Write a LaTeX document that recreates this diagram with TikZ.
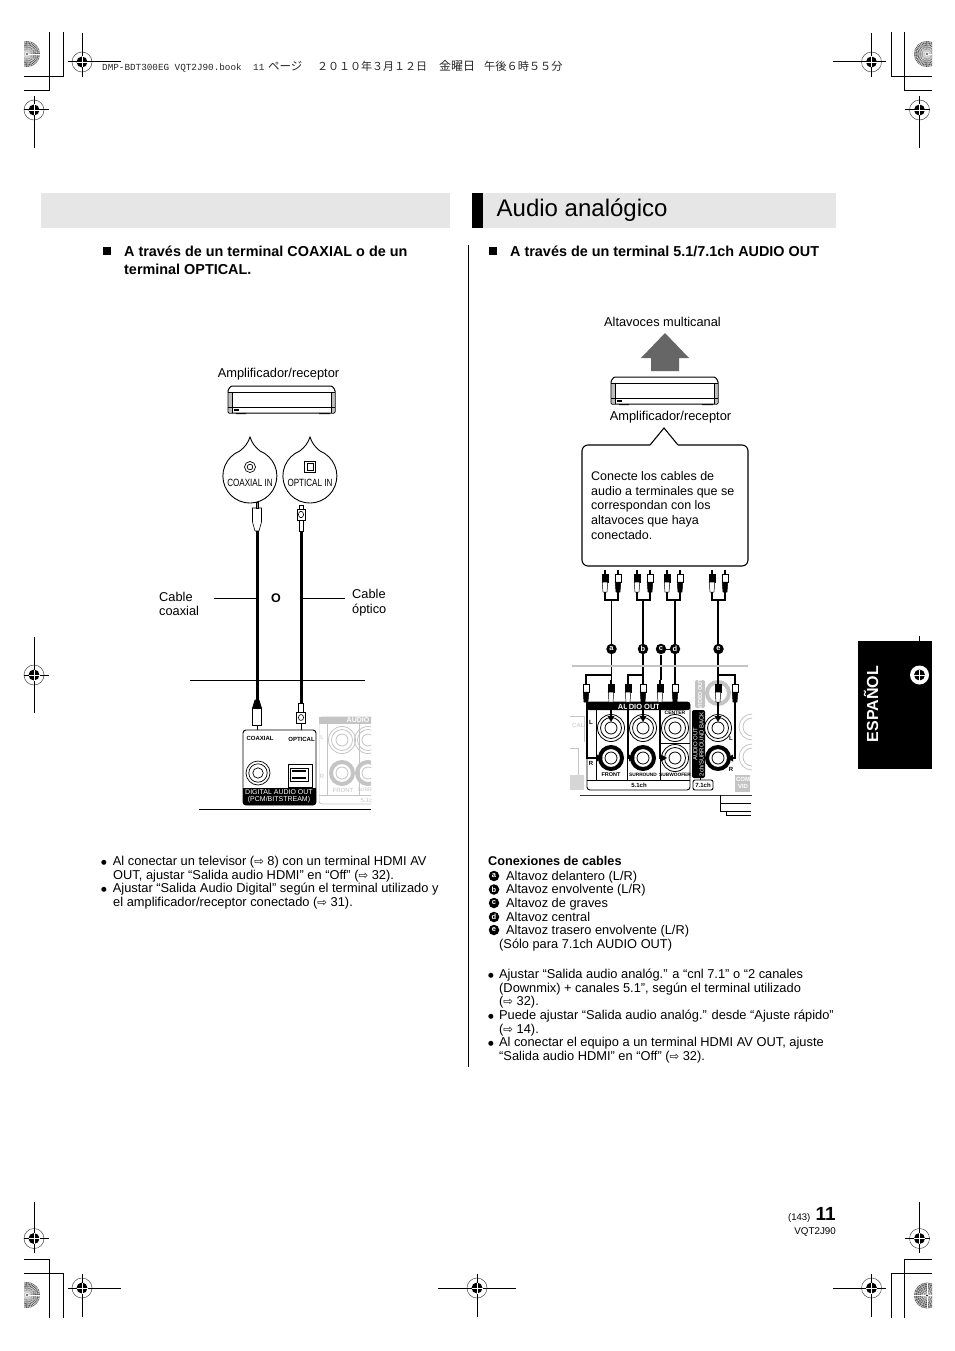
\documentclass[tikz,border=0pt]{standalone}
\usepackage{fontspec}
\setmainfont{Liberation Sans}
\newfontfamily\dvf{DejaVu Sans}
\newfontfamily\cjkf{Noto Sans CJK JP}
\newfontfamily\monof{Liberation Mono}
\usetikzlibrary{calc}
\definecolor{bar}{HTML}{E6E6E6}
\definecolor{panelgrey}{HTML}{C4C4C4}
\newcommand{\fs}[2]{\fontsize{#1}{#2}\selectfont}
\newcommand{\goto}{{\dvf\fs{11.5}{11.5}⇨}}
\newcommand{\bul}{\raisebox{1pt}{\dvf\fs{6.5}{6.5}●}}
\tikzset{x=1pt,y=-1pt,
 body/.style={anchor=north west,align=left,inner sep=0pt,font=\fs{12.85}{13.6}},
 label/.style={anchor=west,align=left,inner sep=0pt,font=\fs{12.8}{14.6}},
 head/.style={anchor=north west,align=left,inner sep=0pt,font=\bfseries\fs{14.4}{18}},
 line13/.style={anchor=base west,inner sep=0pt,font=\fs{12.8}{13}},
 hdr/.style={anchor=base west,inner sep=0pt,text=black!85},
 badge/.style={circle,fill=black,text=white,inner sep=0pt,minimum size=10.5pt,font=\bfseries\fs{7.5}{7.5}},
 thin grey/.style={draw=panelgrey,line width=.8pt},
 cable/.style={line width=3pt,black},
 wire/.style={line width=1.8pt,black},
 crop/.style={line width=1pt,black}}
% registration mark: x y left right up down
\newcommand{\regmark}[6]{%
 \draw[line width=.5pt,black!70] (#1,#2) circle (10);
 \fill[black] (#1,#2) circle (5.5);
 \draw[crop] (#1-#3,#2) -- (#1+#4,#2);
 \draw[crop] (#1,#2-#5) -- (#1,#2+#6);
 \draw[white,line width=.8pt] (#1-5.5,#2) -- (#1+5.5,#2) (#1,#2-5.5) -- (#1,#2+5.5);
}
% half disc target: centre x, y, clip edge x, far edge x, grey level, angle step
\newcommand{\halfdisc}[6]{%
 \begin{scope}
 \clip (#3,#2-14) rectangle (#4,#2+14);
 \fill[black!#5] (#1,#2) circle (13);
 \foreach \r in {4,6,8,10,12} \draw[white,line width=.2pt] (#1,#2) circle (\r);
 \foreach \a in {0,#6,...,359} \draw[white,line width=.25pt] (#1,#2) -- ++(\a:13);
 \fill[black] (#1,#2) circle (.9);
 \end{scope}
}
% amplifier
\newcommand{\amplifier}[2]{%
 \begin{scope}[shift={(#1,#2)}]
 \fill[black] (8,27) rectangle (18,29) (91,27) rectangle (102,29);
 \draw[line width=1pt,fill=white,rounded corners=1pt] (0,5) -- (3,1) -- (104,1) -- (107,5) -- (107,28) -- (0,28) -- cycle;
 \fill[black!25] (.6,7) rectangle (4,27.4) (103,7) rectangle (106.4,27.4);
 \draw[line width=.8pt] (0,7) -- (107,7);
 \draw[line width=.9pt] (0,22) -- (107,22);
 \draw[line width=.5pt] (4,7) -- (4,28) (103,7) -- (103,28);
 \fill[black] (5.5,23.5) rectangle (11,26);
 \end{scope}
}
% speech bubble circle: centre x y
\newcommand{\bubble}[2]{%
 \draw[line width=.9pt,fill=white] (#1,#2-39) .. controls (#1+2,#2-33) and (#1+5,#2-29) .. (#1+10,#2-25)
   arc[start angle=-68,end angle=248,radius=27] .. controls (#1-5,#2-29) and (#1-2,#2-33) .. (#1,#2-39) -- cycle;
}
% RCA plug pointing up: x y top-colour bottom-colour
\newcommand{\rca}[4]{%
 \fill[black] (#1-1,#2) rectangle (#1+1,#2+4);
 \draw[line width=.5pt,fill=#3] (#1-3,#2+4) -- (#1+3,#2+4) -- (#1+3,#2+12) -- (#1-3,#2+12) -- cycle;
 \draw[line width=.5pt,fill=#4] (#1-2.8,#2+12) -- (#1+2.8,#2+12) -- (#1+2,#2+22) -- (#1-2,#2+22) -- cycle;
}
% jack rings
\newcommand{\jack}[3]{%
 \draw[#3,line width=.8pt] (#1,#2) circle (13.5);
 \draw[#3,line width=.8pt] (#1,#2) circle (10.5);
 \draw[#3,line width=.8pt] (#1,#2) circle (6);
}
\newcommand{\thickjack}[3]{%
 \draw[#3,line width=4pt] (#1,#2) circle (11);
 \draw[#3,line width=.8pt] (#1,#2) circle (6);
}
\begin{document}
\begin{tikzpicture}
\useasboundingbox (0,0) rectangle (954,1351);
\fill[white] (0,0) rectangle (954,1351);

% ---------- printer marks
\halfdisc{27}{54}{24}{41}{68}{8}
\halfdisc{927}{54}{932}{913}{68}{8}
\halfdisc{27}{1295}{24}{41}{68}{8}
\halfdisc{927}{1295.5}{932}{913}{62}{15}
\draw[crop] (24,77) -- (63,77) -- (63,32);
\draw[crop] (24,91) -- (49,91) -- (49,32);
\draw[crop] (932,77) -- (891,77) -- (891,32);
\draw[crop] (932,91) -- (904,91) -- (904,32);
\draw[crop] (24,1259) -- (49,1259) -- (49,1318);
\draw[crop] (24,1273) -- (63,1273) -- (63,1318);
\draw[crop] (932,1259) -- (904,1259) -- (904,1318);
\draw[crop] (932,1273) -- (891,1273) -- (891,1318);
\regmark{82}{62}{14}{39}{29}{15}
\regmark{34}{110}{10}{15}{14}{38}
\regmark{871.5}{62}{39}{14}{29}{15}
\regmark{919.5}{110}{15}{10}{14}{38}
\regmark{34}{675}{10}{15}{38}{38}
\regmark{34}{1238.5}{10}{15}{37}{14}
\regmark{82}{1288}{14}{39}{14}{29}
\regmark{477}{1288}{39}{39}{14}{29}
\regmark{871.5}{1288}{39}{14}{14}{29}
\regmark{919.5}{1238.5}{15}{10}{37}{14}
\node[hdr] (bookline) at (102,71) {\monof\fs{9.3}{9.3}DMP-BDT300EG VQT2J90.book};
\node[hdr] (bookpg) at (253,71) {\monof\fs{9.3}{9.3}11};
\node[hdr] (bookpage) at (268,71) {\cjkf\fs{11.5}{11.5}ページ};
\node[hdr] (bookdate) at (317,71) {\cjkf\fs{11}{11}２０１０年３月１２日};
\node[hdr] (bookday) at (439,71) {\cjkf\fs{12}{12}金曜日};
\node[hdr] (booktime) at (484,71) {\cjkf\fs{11.2}{11.2}午後６時５５分};

% ---------- header bars
\fill[bar] (41,193) rectangle (450,228);
\fill[bar] (472,193) rectangle (836,228);
\fill[black] (472,193) rectangle (483,228);
\node[anchor=base west,inner sep=0pt,font=\fs{24}{24}] (title) at (496.5,216) {Audio analógico};
\draw[line width=.8pt] (468,245) -- (468,1067);

% ---------- headings
\fill[black] (103,247) rectangle (110.5,255);
\node[head] (headL) at (124,246) {A través de un terminal COAXIAL o de un\\terminal OPTICAL.};
\fill[black] (489,247) rectangle (496.5,255);
\node[head] (headR) at (510,246) {A través de un terminal 5.1/7.1ch AUDIO OUT};

% ---------- LEFT diagram
\node[anchor=center,inner sep=0pt,font=\fs{12.85}{13}] (ampL) at (278.5,374) {Amplificador/receptor};
\amplifier{228}{385}
\bubble{250}{476}\bubble{310}{476}
\draw[line width=.7pt] (250,467) circle (5.5) (250,467) circle (2.8);
\draw[line width=1pt] (304.5,461) rectangle (315.5,472);
\draw[line width=.7pt] (307,463.5) rectangle (313,470);
\node[inner sep=0pt,font=\fs{10.5}{10.5},xscale=.77] (coaxin) at (250,483) {COAXIAL IN};
\node[inner sep=0pt,font=\fs{10.5}{10.5},xscale=.77] (optin) at (310,483) {OPTICAL IN};
% upper plugs
\draw[line width=.6pt,fill=white] (252.5,508) -- (252.5,522) -- (255,531) -- (259,531) -- (261.5,522) -- (261.5,508) -- cycle;
\draw[line width=.6pt,fill=black!40] (256,502) rectangle (258,508);
\draw[line width=.8pt,fill=white] (299,505) rectangle (303,509);
\draw[line width=.8pt,fill=white] (297,509) rectangle (305.5,520);
\draw[line width=.6pt,fill=white] (299,520) rectangle (303,531);
\draw[line width=.6pt] (301,514.5) ellipse (2.6 and 3.2);
% cables
\draw[cable] (257,531) -- (257,702);
\draw[cable] (301,531) -- (301,703);
\draw[line width=.9pt] (190,680) -- (365,680);
\node[label] (coaxcable) at (159,604) {Cable\\coaxial};
\node[label,font=\fs{12.8}{15}] (optcable) at (352,602.5) {Cable\\óptico};
\node[inner sep=0pt,font=\bfseries\fs{12.5}{13}] (ortxt) at (276,598.5) {O};
\draw[line width=.7pt] (214,598) -- (257,598);
\draw[line width=.7pt] (301,598) -- (345,598);
% grey rear panel
\begin{scope}
\clip (319,700) rectangle (371,810);
\draw[thin grey,rounded corners=3pt] (319,717) rectangle (400,804);
\fill[panelgrey] (319,717) rectangle (400,724);
\draw[thin grey] (327,724) -- (327,795) (359,724) -- (359,795) (319,795) -- (400,795);
\jack{342}{740}{panelgrey}
\jack{368}{740}{panelgrey}
\thickjack{342}{773}{panelgrey}
\thickjack{368}{773}{panelgrey}
\node[inner sep=0pt,text=white,font=\bfseries\fs{7}{7}] (augrey) at (358,720.5) {AUDIO};
\node[inner sep=0pt,text=panelgrey,font=\fs{6}{6}] (lgrey) at (322,737) {L};
\node[inner sep=0pt,text=panelgrey,font=\fs{6}{6}] (rgrey) at (322,776) {R};
\node[inner sep=0pt,text=panelgrey,font=\fs{6}{6}] (frontgrey) at (343,790) {FRONT};
\node[inner sep=0pt,text=panelgrey,font=\fs{5}{5}] (surgrey) at (372,790) {SURROUND};
\node[inner sep=0pt,text=panelgrey,font=\fs{6}{6}] (sixgrey) at (368,800) {5.1ch};
\end{scope}
% output box
\draw[line width=.9pt,rounded corners=3pt,fill=white] (243,730) rectangle (316,805);
\fill[black,rounded corners=3pt] (243,788) rectangle (316,805);
\fill[black] (243,788) rectangle (316,796);
\draw[line width=.7pt] (258,773) circle (12) (258,773) circle (9.2) (258,773) circle (5.2);
\draw[line width=.9pt] (288,764) rectangle (312,787);
\draw[line width=.8pt] (290,768) rectangle (308,781);
\draw[line width=1.4pt] (292,771) -- (306,771) (292,778) -- (306,778);
\node[inner sep=0pt,font=\bfseries\fs{6}{6}] (coaxtxt) at (260,738.5) {COAXIAL};
\node[inner sep=0pt,font=\bfseries\fs{6}{6}] (opttxt) at (301.5,739) {OPTICAL};
\node[inner sep=0pt,text=white,align=center,font=\fs{7}{7.2}] (digital) at (279,796.5) {DIGITAL AUDIO OUT\\(PCM/BITSTREAM)};
% lower plugs
\draw[line width=.6pt,fill=black] (252.5,708) -- (255,700) -- (259,700) -- (261.5,708) -- cycle;
\draw[line width=.6pt,fill=white] (252.5,708) rectangle (261.5,725);
\draw[line width=.8pt] (257,725) -- (257,730);
\draw[line width=.8pt,fill=white] (298.5,703) rectangle (303.5,712);
\draw[line width=.8pt,fill=white] (296.5,712) rectangle (305.5,723);
\draw[line width=.6pt] (301,717.5) ellipse (2.6 and 3);
\draw[line width=.8pt] (301,723) -- (301,730);
\draw[line width=1pt] (199,809) -- (371,809);

% ---------- LEFT notes
\node[body] (notesL) at (101,856) {\bul\hspace{2.4pt} Al conectar un televisor (\goto{} 8) con un terminal HDMI AV\\
\hspace{12pt}OUT, ajustar “Salida audio HDMI” en “Off” (\goto{} 32).\\
\bul\hspace{2.4pt} Ajustar “Salida Audio Digital” según el terminal utilizado y\\
\hspace{12pt}el amplificador/receptor conectado (\goto{} 31).};

% ---------- RIGHT diagram
\node[inner sep=0pt,font=\fs{12.8}{13}] (multi) at (662.5,322) {Altavoces multicanal};
\fill[black!60] (665,333) -- (689,358) -- (679,358) -- (679,371) -- (651,371) -- (651,358) -- (641,358) -- cycle;
\amplifier{611}{376}
\node[inner sep=0pt,font=\fs{12.85}{13}] (ampR) at (670.5,417) {Amplificador/receptor};
\draw[line width=1.1pt,fill=white,rounded corners=6pt] (650,445) -- (582,445) -- (582,566) -- (748,566) -- (748,445) -- (678,445);
\draw[line width=1.1pt] (650,445) -- (664,428) -- (678,445);
\node[anchor=north west,align=left,inner sep=0pt,font=\fs{12.5}{14.6}] (callout) at (591,471.5) {Conecte los cables de\\audio a terminales que se\\correspondan con los\\altavoces que haya\\conectado.};
% upper plugs & Y wires
\foreach \xa/\xb/\xt in {605/618/611.5,637/650/643,667/680/675,712/725/718}{
 \rca{\xa}{570}{black}{white}
 \rca{\xb}{570}{white}{black}
 \draw[wire] (\xa,592) -- (\xa,600) -- (\xb,600) -- (\xb,592);
 \draw[wire] (\xt,600) -- (\xt,680);
}
\draw[wire] (661,655) -- (661,680);
\draw[panelgrey,line width=1.2pt] (572,666) -- (748,666);
\draw[wire] (611.5,675) -- (586,675) -- (586,680);
\draw[wire] (643,675) -- (628,675) -- (628,680);
\draw[wire] (718,675) -- (735,675) -- (735,680);
\node[badge] (ba) at (611.5,649) {a};
\node[badge] (bb) at (643,649) {b};
\node[badge] (bc) at (661,649) {c};
\node[badge] (bd) at (675,649) {d};
\node[badge] (be) at (718.5,649) {e};
\draw[line width=.8pt] (bc) -- (bd);
% grey background items
\draw[panelgrey,line width=.7pt] (570,716) -- (584,716) -- (584,742);
\node[inner sep=0pt,text=panelgrey,font=\fs{6}{6}] (calg) at (578,725) {CAL};
\draw[panelgrey,line width=.7pt] (570,748) -- (578,748) -- (578,775);
\fill[panelgrey!70] (570,775) rectangle (584,790);
\fill[panelgrey,rounded corners=2pt] (695,680) rectangle (705,708);
\node[rotate=90,inner sep=0pt,text=white,font=\bfseries\fs{5.5}{5.5}] (vidout) at (700,694) {VIDEO OUT};
\draw[panelgrey,line width=4pt] (718,693) circle (11);
\begin{scope}
\clip (735,710) rectangle (752,790);
\draw[panelgrey,line width=.8pt] (752,727) circle (13) (752,727) circle (9);
\draw[panelgrey,line width=.8pt] (752,757) circle (13) (752,757) circle (9);
\end{scope}
\fill[panelgrey] (735,775) rectangle (750,792);
\node[inner sep=0pt,text=white,align=center,font=\bfseries\fs{6}{6.5}] (comvid) at (743,783) {COM\\VID};
% output panel
\draw[line width=.9pt,rounded corners=3pt] (587,702) rectangle (690,790);
\fill[black,rounded corners=2pt] (587,702) rectangle (690,710);
\draw[line width=.9pt] (587,780) -- (690,780);
\draw[line width=.9pt] (596,708) -- (596,780) (627,708) -- (627,780) (660,708) -- (660,780);
\draw[line width=.9pt] (660,743) -- (690,743);
\node[inner sep=0pt,text=white,font=\bfseries\fs{7.5}{7.5}] (audioout) at (639,706.5) {AUDIO OUT};
\node[inner sep=0pt,font=\bfseries\fs{5.5}{5.5}] (front) at (611,775) {FRONT};
\node[inner sep=0pt,font=\bfseries\fs{4.8}{4.8}] (surr) at (643,775) {SURROUND};
\node[inner sep=0pt,font=\bfseries\fs{4.8}{4.8}] (subw) at (675,775) {SUBWOOFER};
\node[inner sep=0pt,font=\bfseries\fs{5}{5}] (center) at (675,713) {CENTER};
\node[inner sep=0pt,font=\bfseries\fs{6}{6}] (fivech) at (639,785.5) {5.1ch};
\node[inner sep=0pt,font=\bfseries\fs{6}{6}] (letl) at (591,722) {L};
\node[inner sep=0pt,font=\bfseries\fs{6}{6}] (letr) at (591,763) {R};
\foreach \xx in {611,643,675}{\jack{\xx}{728}{black}}
\thickjack{611}{758}{black}
\thickjack{643}{758}{black}
\jack{675}{758}{black}
\fill[black,rounded corners=2pt] (692,710) rectangle (705,778);
\node[rotate=90,inner sep=0pt,text=white,align=center,font=\fs{6}{6.3}] (backtxt) at (698.5,744) {AUDIO OUT\\2ch/SURROUND BACK};
\draw[line width=.9pt,rounded corners=2pt] (693,780) rectangle (713,790);
\draw[line width=.8pt] (700,778) -- (700,780);
\node[inner sep=0pt,font=\bfseries\fs{6}{6}] (sevench) at (703,785.5) {7.1ch};
\jack{718}{728}{black}
\thickjack{718}{758}{black}
\node[inner sep=0pt,font=\bfseries\fs{6}{6}] (letl2) at (731,738) {L};
\node[inner sep=0pt,font=\bfseries\fs{6}{6}] (letr2) at (731,769) {R};
% plugs in panel and arrows
\foreach \xx/\ya/\yb in {586/white/black,611/black/white,628/black/white,643/white/black,660/black/white,675/white/black,718/black/white,735/white/black}{
 \rca{\xx}{680}{\ya}{\yb}
}
\draw[wire] (611,702) -- (611,718);
\fill (611,722) -- (607.5,716) -- (614.5,716) -- cycle;
\draw[wire] (643,702) -- (643,718);
\fill (643,722) -- (639.5,716) -- (646.5,716) -- cycle;
\draw[wire] (718,702) -- (718,718);
\fill (718,722) -- (714.5,716) -- (721.5,716) -- cycle;
\draw[wire] (587,702) -- (587,758) -- (598,758);
\fill (603,758) -- (597,754.5) -- (597,761.5) -- cycle;
\draw[wire] (628,702) -- (628,758) -- (630,758);
\fill (635,758) -- (629,754.5) -- (629,761.5) -- cycle;
\draw[wire] (660,702) -- (660,758) -- (662,758);
\fill (667,758) -- (661,754.5) -- (661,761.5) -- cycle;
\draw[wire] (735,702) -- (735,758) -- (732,758);
\fill (727,758) -- (733,754.5) -- (733,761.5) -- cycle;
\draw[line width=.9pt,black!80] (580,795) -- (752,795);
\draw[line width=.9pt] (720,795) -- (720,803) (751,803) -- (720,803) -- (720,811) -- (751,811) (726,811) -- (726,815) -- (751,815);

% ---------- RIGHT notes
\node[anchor=north west,inner sep=0pt,font=\bfseries\fs{12.7}{13}] (connhead) at (488,856.5) {Conexiones de cables};
\foreach \yy/\ll/\nm in {876/a/la,889.5/b/lb,903/c/lc,917/d/ld,930/e/le}{\node[badge] (\nm) at (494,\yy) {\ll};}
\node[line13] (ta) at (506,880) {Altavoz delantero (L/R)};
\node[line13] (tb) at (506,893.5) {Altavoz envolvente (L/R)};
\node[line13] (tc) at (506,907) {Altavoz de graves};
\node[line13] (td) at (506,921) {Altavoz central};
\node[line13] (te) at (506,934) {Altavoz trasero envolvente (L/R)};
\node[line13] (tf) at (499,948) {(Sólo para 7.1ch AUDIO OUT)};
\node[body] (notesR) at (488,969) {\bul\hspace{1.6pt} Ajustar “Salida audio analóg.” a “cnl 7.1” o “2 canales\\
\hspace{11pt}(Downmix) + canales 5.1”, según el terminal utilizado\\
\hspace{11pt}(\goto{} 32).\\
\bul\hspace{1.6pt} Puede ajustar “Salida audio analóg.” desde “Ajuste rápido”\\
\hspace{11pt}(\goto{} 14).\\
\bul\hspace{1.6pt} Al conectar el equipo a un terminal HDMI AV OUT, ajuste\\
\hspace{11pt}“Salida audio HDMI” en “Off” (\goto{} 32).};

% ---------- language tab
\fill[black] (858,641) rectangle (932,769);
\draw[line width=1pt] (919.5,636) -- (919.5,641);
\node[rotate=90,inner sep=0pt,text=white,font=\bfseries\fs{16}{16}] (lang) at (871,704) {ESPAÑOL};
\fill[white] (919.5,675) circle (9.5);
\fill[black] (919.5,675) circle (5.5);
\draw[white,line width=.8pt] (914,675) -- (925,675) (919.5,669.5) -- (919.5,680.5);

% ---------- footer
\node[anchor=base west,inner sep=0pt,font=\fs{9.5}{9.5}] (pg143) at (788,1220) {(143)};
\node[anchor=base west,inner sep=0pt,font=\bfseries\fs{19}{19}] (pgnum) at (815.5,1220) {11};
\node[anchor=base east,inner sep=0pt,font=\fs{9.8}{10}] (vqt) at (836,1234) {VQT2J90};
\end{tikzpicture}
\end{document}
